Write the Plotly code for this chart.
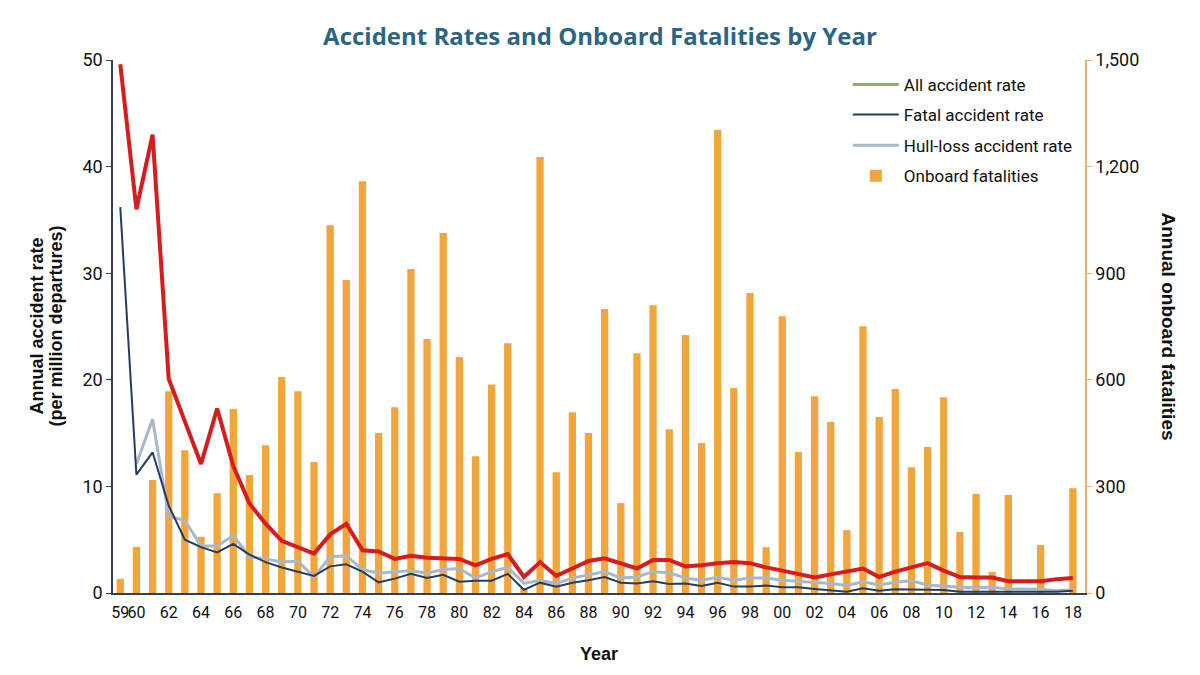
import plotly.graph_objects as go

# ── Data ────────────────────────────────────────────────────────────────────
YEARS = list(range(1959, 2019))

ONBOARD_FATALITIES = [
    40, 130, 318, 568, 402, 158, 281, 518, 332, 416,      # 59-68
    608, 568, 369, 1035, 881, 1159, 450, 523, 912, 715,   # 69-78
    1013, 664, 385, 587, 703, 15, 1227, 340, 509, 450,    # 79-88
    799, 253, 675, 810, 461, 726, 422, 1303, 577, 844,    # 89-98
    129, 779, 397, 554, 481, 177, 751, 495, 574, 354,     # 99-08
    411, 551, 172, 279, 59, 276, 0, 135, 0, 295,          # 09-18
]

ALL_ACCIDENT_RATE = [
    49.6, 36.0, 43.0, 20.1, 16.1, 12.1, 17.3, 11.9, 8.4, 6.5,
    4.9, 4.3, 3.7, 5.5, 6.5, 4.0, 3.9, 3.2, 3.5, 3.3,
    3.25, 3.2, 2.6, 3.2, 3.65, 1.5, 2.9, 1.6, 2.3, 3.0,
    3.25, 2.8, 2.3, 3.1, 3.1, 2.5, 2.6, 2.8, 2.9, 2.8,
    2.4, 2.1, 1.8, 1.45, 1.75, 2.0, 2.3, 1.5, 2.0, 2.4,
    2.8, 2.1, 1.5, 1.45, 1.45, 1.1, 1.1, 1.1, 1.3, 1.4,
]

FATAL_ACCIDENT_RATE = [
    36.2, 11.1, 13.2, 8.2, 5.0, 4.3, 3.8, 4.6, 3.6, 2.9,
    2.4, 2.0, 1.6, 2.5, 2.7, 2.0, 1.0, 1.35, 1.8, 1.4,
    1.7, 1.06, 1.15, 1.15, 1.8, 0.3, 0.97, 0.6, 0.97, 1.2,
    1.5, 0.97, 0.9, 1.1, 0.85, 0.9, 0.65, 0.97, 0.6, 0.6,
    0.7, 0.53, 0.53, 0.38, 0.28, 0.12, 0.44, 0.22, 0.35, 0.35,
    0.35, 0.28, 0.12, 0.12, 0.12, 0.1, 0.1, 0.1, 0.12, 0.22,
]

HULL_LOSS_RATE = [
    None, 12.1, 16.3, 7.2, 6.8, 4.4, 4.4, 5.4, 3.4, 3.2,
    2.9, 3.0, 1.5, 3.4, 3.5, 2.2, 1.85, 2.0, 2.1, 1.85,
    2.2, 2.3, 1.4, 2.0, 2.4, 0.9, 1.2, 0.9, 1.4, 1.7,
    2.0, 1.4, 1.5, 2.0, 1.9, 1.4, 1.2, 1.47, 1.2, 1.4,
    1.4, 1.2, 1.1, 0.97, 0.9, 0.7, 1.05, 0.75, 1.0, 1.15,
    0.75, 0.65, 0.53, 0.5, 0.53, 0.38, 0.35, 0.35, 0.22, 0.28,
]

TICK_YEARS = [1959] + list(range(1960, 2019, 2))
TICK_TEXT = [f"{y % 100:02d}" for y in TICK_YEARS]

# ── Style ───────────────────────────────────────────────────────────────────
COLOR_BAR = "#F2A53A"
COLOR_ALL = "#D71C1C"
COLOR_ALL_LEGEND = "#8FAE74"
COLOR_FATAL = "#273D5F"
COLOR_HULL = "#A8B8CB"
COLOR_TITLE = "#2B6584"
COLOR_AXIS = "#2E3F5E"
COLOR_AXIS_R = "#E5B173"

NARROW = "Liberation Sans Narrow, Roboto, sans-serif"
TICK_FONT = dict(family=NARROW, size=18, color="#111111")
XTICK_FONT = dict(family=NARROW, size=16, color="#111111")
LABEL_FONT = dict(family="Liberation Sans, Arial, sans-serif", size=18, color="#111111")
LEGEND_FONT = dict(family=NARROW, size=17, color="#111111")

fig = go.Figure()

# bars on the base axis (drawn underneath), lines on the overlaying axis
fig.add_trace(go.Bar(
    x=YEARS, y=ONBOARD_FATALITIES, name="Onboard fatalities",
    marker=dict(color=COLOR_BAR, line=dict(width=0)),
    width=0.45, yaxis="y", legend="legend4",
))
fig.add_trace(go.Scatter(
    x=YEARS, y=HULL_LOSS_RATE, mode="lines", name="Hull-loss accident rate",
    line=dict(color=COLOR_HULL, width=3), yaxis="y2", legend="legend3",
))
fig.add_trace(go.Scatter(
    x=YEARS, y=FATAL_ACCIDENT_RATE, mode="lines", name="Fatal accident rate",
    line=dict(color=COLOR_FATAL, width=2), yaxis="y2", legend="legend2",
))
fig.add_trace(go.Scatter(
    x=YEARS, y=ALL_ACCIDENT_RATE, mode="lines", name="All accident rate",
    line=dict(color=COLOR_ALL, width=4), yaxis="y2", showlegend=False,
))
# legend entry keeps the original's green swatch
fig.add_trace(go.Scatter(
    x=[None], y=[None], mode="lines", name="All accident rate",
    line=dict(color=COLOR_ALL_LEGEND, width=3), yaxis="y2", legend="legend",
))


def _legend(y):
    # one legend per entry so the rows can be spaced like the original
    return dict(
        x=0.756, y=y, xanchor="left", yanchor="middle",
        font=LEGEND_FONT, bgcolor="rgba(0,0,0,0)", itemwidth=46,
    )


# page body has an 8px margin, so the figure is sized to fit inside it
fig.update_layout(
    width=1184, height=659,
    plot_bgcolor="white", paper_bgcolor="white",
    margin=dict(l=105, r=107, t=52, b=74),
    title=dict(
        text="<b>Accident Rates and Onboard Fatalities by Year</b>",
        font=dict(family="Open Sans, Liberation Sans, sans-serif", size=24, color=COLOR_TITLE),
        x=0.5, xanchor="center", y=0.956, yanchor="middle",
    ),
    xaxis=dict(
        range=[1958.55, 2018.75], tickvals=TICK_YEARS, ticktext=TICK_TEXT,
        tickfont=XTICK_FONT, tickangle=0, showgrid=False, zeroline=False,
        showline=True, linecolor=COLOR_AXIS, linewidth=1.5, ticks="",
        ticklabelstandoff=4, automargin=False,
        title=dict(text="<b>Year</b>", font=LABEL_FONT, standoff=26),
    ),
    yaxis=dict(
        side="right", range=[0, 1500], tickvals=[0, 300, 600, 900, 1200, 1500],
        tickformat=",", tickfont=TICK_FONT, showgrid=False, zeroline=False,
        showline=True, linecolor=COLOR_AXIS_R, linewidth=1.5, automargin=False,
        ticks="outside", ticklen=5, tickcolor=COLOR_AXIS_R,
    ),
    yaxis2=dict(
        side="left", overlaying="y", range=[0, 50], tickvals=[0, 10, 20, 30, 40, 50],
        tickfont=TICK_FONT, showgrid=False, zeroline=False,
        showline=True, linecolor=COLOR_AXIS, linewidth=1.5, automargin=False,
        ticks="outside", ticklen=5, tickcolor=COLOR_AXIS,
    ),
    legend=_legend(0.953),
    legend2=_legend(0.897),
    legend3=_legend(0.839),
    legend4=_legend(0.782),
    annotations=[
        dict(
            text="<b>Annual accident rate</b>",
            x=0, xref="paper", xshift=-77, y=0.5, yref="paper",
            xanchor="center", yanchor="middle",
            textangle=-90, showarrow=False, font=LABEL_FONT,
        ),
        dict(
            text="<b>(per million departures)</b>",
            x=0, xref="paper", xshift=-58, y=0.5, yref="paper",
            xanchor="center", yanchor="middle",
            textangle=-90, showarrow=False, font=LABEL_FONT,
        ),
        dict(
            text="<b>Annual onboard fatalities</b>",
            x=1.0, xref="paper", xshift=83, y=0.5, yref="paper",
            xanchor="center", yanchor="middle",
            textangle=90, showarrow=False,
            font=dict(LABEL_FONT, size=19),
        ),
    ],
)

fig.write_html("out.html")
